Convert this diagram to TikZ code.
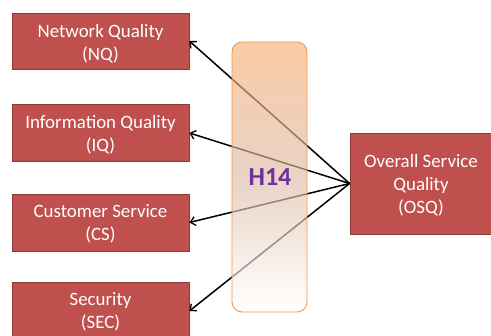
\documentclass[tikz,border=0pt]{standalone}
\usepackage{fontspec}
\setmainfont{Carlito}
\usetikzlibrary{arrows.meta}
\definecolor{boxred}{HTML}{C0504D}
\definecolor{boxedge}{HTML}{8C3A38}
\definecolor{bandorange}{HTML}{F79646}
\definecolor{bandtop}{HTML}{F8AF75}
\definecolor{bandmid}{HTML}{DCBCA5}
\definecolor{hpurple}{HTML}{7030A0}
\tikzset{
  factor/.style={draw=boxedge, line width=0.8pt, fill=boxred,
    minimum width=177pt, minimum height=57pt, inner sep=0pt},
  boxtext/.style={text=white, align=center, inner sep=0pt,
    font=\fontsize{18.9}{23}\selectfont},
  link/.style={line width=1.5pt, black, -{Straight Barb[length=5pt,width=9pt,line width=1.3pt]}},
  band/.style={draw=bandorange, line width=0.9pt, rounded corners=10pt,
    top color=bandtop, bottom color=white, middle color=bandmid, fill opacity=0.65}
}
\begin{document}
\begin{tikzpicture}[x=1pt,y=-1pt]
\useasboundingbox (0,0) rectangle (491,336);
\node[factor, minimum height=56pt] (nq) at (100.5,41) {};
\node[factor] (iq) at (100.5,133) {};
\node[factor] (cs) at (100.5,222.5) {};
\node[factor] (sec) at (100.5,311) {};
\node[factor, minimum width=142pt, minimum height=101pt] (osq) at (421,183.5) {};
\node[boxtext] (nqt) at ([yshift=-3pt]nq.center) {Network Quality\\(NQ)};
\node[boxtext] (iqt) at ([yshift=-2pt]iq.center) {Information Quality\\(IQ)};
\node[boxtext] (cst) at ([yshift=-1pt]cs.center) {Customer Service\\(CS)};
\node[boxtext] (sect) at ([yshift=-1pt]sec.center) {Security\\(SEC)};
\node[boxtext] (osqt) at ([yshift=-2pt]osq.center) {Overall Service\\Quality\\(OSQ)};
\draw[link] (osq.west) -- (nq.east);
\draw[link] (osq.west) -- (iq.east);
\draw[link] (osq.west) -- (cs.east);
\draw[link] (osq.west) -- (sec.east);
\path[band] (232,42) rectangle (307,312);
\node[text=hpurple, font=\fontsize{26}{30}\selectfont\bfseries] (h14) at (270,177) {H14};
\end{tikzpicture}
\end{document}
